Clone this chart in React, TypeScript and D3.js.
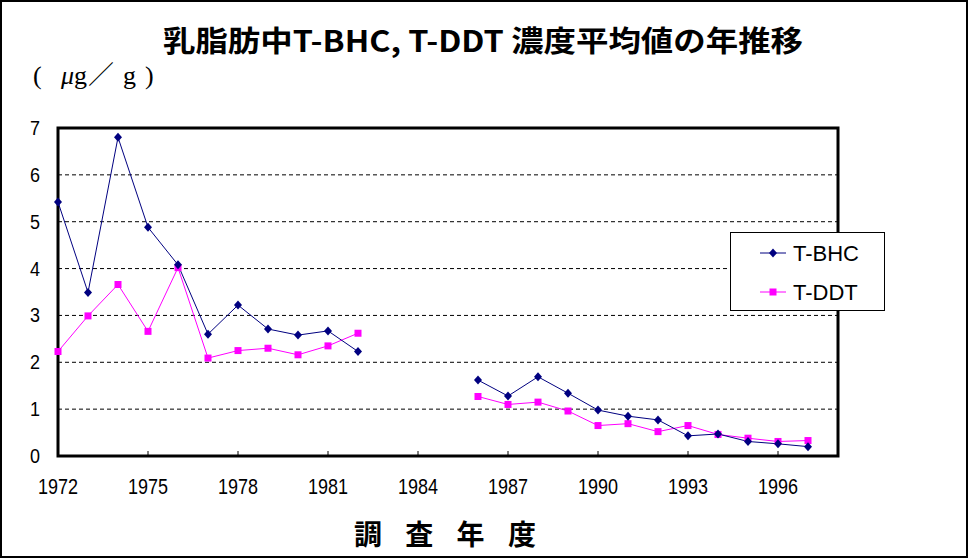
import React from "react";
import * as d3 from "d3";

const years: number[] = d3.range(1972, 1998);
const tbhc: (number | null)[] = [
  5.42, 3.49, 6.8, 4.88, 4.08, 2.6, 3.22, 2.71, 2.58, 2.67, 2.23,
  null, null, null,
  1.62, 1.28, 1.69, 1.34, 0.98, 0.85, 0.77, 0.43, 0.47, 0.31, 0.26, 0.2,
];
const tddt: (number | null)[] = [
  2.23, 2.99, 3.66, 2.66, 4.02, 2.09, 2.25, 2.3, 2.16, 2.35, 2.62,
  null, null, null,
  1.27, 1.1, 1.15, 0.96, 0.65, 0.69, 0.52, 0.65, 0.46, 0.38, 0.31, 0.33,
];
const yTicks: number[] = [0, 1, 2, 3, 4, 5, 6, 7];
const xTickLabels: number[] = [1972, 1975, 1978, 1981, 1984, 1987, 1990, 1993, 1996];
const seriesNames: string[] = ["T-BHC", "T-DDT"];
const title = "乳脂肪中T-BHC, T-DDT 濃度平均値の年推移";
const unitParts: string[] = ["(", "μ", "g", "／", "g", ")"];
const xTitleChars: string[] = ["調", "査", "年", "度"];

const W = 968;
const H = 558;
const plot = { left: 58, right: 838, top: 128, bottom: 456 };

export default function App() {
  const x = d3.scaleLinear().domain([1972, 1998]).range([plot.left, plot.right]);
  const y = d3.scaleLinear().domain([0, 7]).range([plot.bottom, plot.top]);
  const line = d3
    .line<[number, number | null]>()
    .defined((d) => d[1] !== null)
    .x((d) => x(d[0]))
    .y((d) => y(d[1] as number));
  const bhcPts: [number, number | null][] = years.map((yr, i) => [yr, tbhc[i]]);
  const ddtPts: [number, number | null][] = years.map((yr, i) => [yr, tddt[i]]);
  const navy = "#000080";
  const mag = "#FF00FF";
  const diamond = (cx: number, cy: number, k: string) => (
    <path key={k} d={`M${cx},${cy - 4.5}L${cx + 4},${cy}L${cx},${cy + 4.5}L${cx - 4},${cy}Z`} fill={navy} />
  );
  const square = (cx: number, cy: number, k: string) => (
    <rect key={k} x={cx - 3.5} y={cy - 3.5} width={7} height={7} fill={mag} />
  );
  const sans = "'Liberation Sans', Arial, sans-serif";
  const cjk = "'Noto Sans CJK JP', sans-serif";
  const serif = "'Liberation Serif', 'DejaVu Serif', serif";
  const unitX = [33, 61, 74, 88, 123, 145];
  return (
    <div style={{ position: "absolute", left: 0, top: 0 }}>
      <svg width={W} height={H} style={{ display: "block", background: "#fff" }}>
        <rect x={1} y={1} width={W - 2} height={H - 2} fill="#fff" stroke="#000" strokeWidth={2} />
        <text x={483} y={52} textAnchor="middle" fontFamily={cjk} fontWeight="bold" fontSize={29}
          textLength={640} lengthAdjust="spacingAndGlyphs">{title}</text>
        <text y={84} fontFamily={serif} fontSize={26}>
          {unitParts.map((p, i) => (
            <tspan key={i} x={unitX[i]} fontStyle={p === "μ" ? "italic" : "normal"}
              fontFamily={p === "／" ? "'Noto Sans CJK JP', sans-serif" : serif}
              fontWeight={p === "／" ? 300 : "normal"}>{p}</tspan>
          ))}
        </text>
        {/* gridlines */}
        {yTicks.filter((t) => t > 0 && t < 7).map((t) => (
          <line key={t} x1={plot.left} x2={plot.right} y1={y(t)} y2={y(t)} stroke="#000" strokeWidth={1} strokeDasharray="4,3" />
        ))}
        {/* x ticks */}
        {xTickLabels.filter((t) => t > 1972).map((t) => (
          <line key={t} x1={x(t)} x2={x(t)} y1={plot.bottom} y2={plot.bottom - 5} stroke="#000" strokeWidth={1} />
        ))}
        {/* plot border */}
        <rect x={plot.left} y={plot.top} width={plot.right - plot.left} height={plot.bottom - plot.top}
          fill="none" stroke="#000" strokeWidth={3} />
        {/* y labels */}
        {yTicks.map((t) => (
          <text key={t} x={40} y={y(t) + 7} textAnchor="end" fontFamily={sans} fontSize={20}
            textLength={10} lengthAdjust="spacingAndGlyphs">{t}</text>
        ))}
        {/* x labels */}
        {xTickLabels.map((t) => (
          <text key={t} x={x(t)} y={494} textAnchor="middle" fontFamily={sans} fontSize={22}
            textLength={40} lengthAdjust="spacingAndGlyphs">{t}</text>
        ))}
        {/* series */}
        <path d={line(ddtPts) || ""} fill="none" stroke={mag} strokeWidth={1} />
        <path d={line(bhcPts) || ""} fill="none" stroke={navy} strokeWidth={1} />
        {ddtPts.filter((d) => d[1] !== null).map((d) => square(x(d[0]), y(d[1] as number), "s" + d[0]))}
        {bhcPts.filter((d) => d[1] !== null).map((d) => diamond(x(d[0]), y(d[1] as number), "d" + d[0]))}
        {/* legend */}
        <rect x={730.5} y={232.5} width={154} height={78} fill="#fff" stroke="#000" strokeWidth={1} />
        <line x1={760} x2={786} y1={253} y2={253} stroke={navy} strokeWidth={1} />
        {diamond(773, 253, "ld")}
        <text x={793} y={261} fontFamily={sans} fontSize={22}>{seriesNames[0]}</text>
        <line x1={760} x2={786} y1={292} y2={292} stroke={mag} strokeWidth={1} />
        {square(773, 292, "ls")}
        <text x={793} y={300} fontFamily={sans} fontSize={22}>{seriesNames[1]}</text>
        {/* x title */}
        {xTitleChars.map((c, i) => (
          <text key={c} x={368 + i * 51.3} y={545} textAnchor="middle" fontFamily={cjk} fontWeight="bold" fontSize={28}>{c}</text>
        ))}
      </svg>
    </div>
  );
}
